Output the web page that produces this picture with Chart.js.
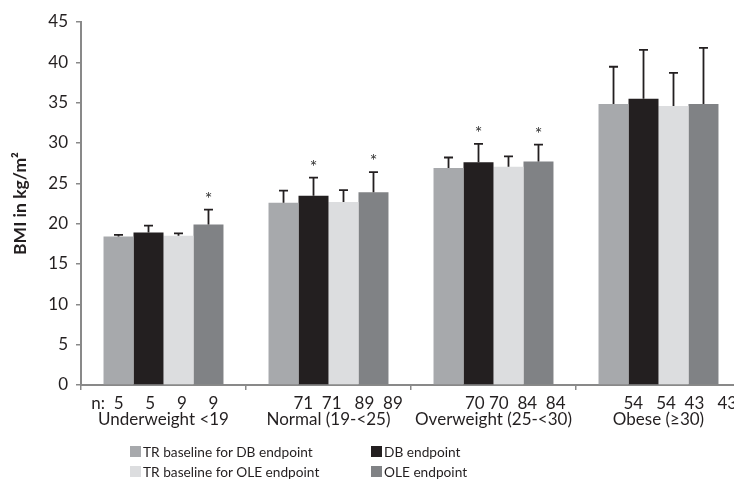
<!DOCTYPE html>
<html>
<head>
<meta charset="utf-8">
<script src="https://cdn.jsdelivr.net/npm/chart.js@4.4.0/dist/chart.umd.min.js"></script>
<style>
  html, body { margin: 0; padding: 0; background: #fff; overflow: hidden; }
  #wrap { position: relative; width: 746px; height: 490px; }
  #legend { position: absolute; left: 0; top: 0; font-family: Lato, sans-serif; font-size: 13.7px; color: #231f20; }
  .item { position: absolute; height: 20px; display: flex; align-items: center; white-space: nowrap; }
  .box { width: 11px; height: 11px; margin-right: 2px; }
</style>
</head>
<body>
<div id="wrap">
  <canvas id="chart" width="746" height="490"></canvas>
  <div id="legend"></div>
</div>
<script>
// ---- DATA ----
const categories = ['Underweight <19', 'Normal (19-<25)', 'Overweight (25-<30)', 'Obese (≥30)'];
// n per bar, typed as one row of text under each group (as in the source figure)
const nRows = [
  'n:  5     5     9     9    ',
  '         71  71   89  89',
  '          70 70  84  84',
  '          54   54  43   43'
];

const seriesNames = ['TR baseline for DB endpoint', 'DB endpoint', 'TR baseline for OLE endpoint', 'OLE endpoint'];
const seriesColors = ['#a7a9ac', '#231f20', '#dcdddf', '#808285'];

const trBaseDB  = [18.4, 22.6, 26.9, 34.85];
const dbEnd     = [18.9, 23.45, 27.6, 35.5];
const trBaseOLE = [18.5, 22.7, 27.05, 34.6];
const oleEnd    = [19.9, 23.9, 27.7, 34.85];

// upper SD
const sdTrBaseDB  = [0.2, 1.5, 1.3, 4.6];
const sdDbEnd     = [0.85, 2.25, 2.3, 6.05];
const sdTrBaseOLE = [0.3, 1.45, 1.3, 4.1];
const sdOleEnd    = [1.85, 2.5, 2.1, 6.95];

// significance markers (*)
const sigTrBaseDB  = [false, false, false, false];
const sigDbEnd     = [false, true, true, false];
const sigTrBaseOLE = [false, false, false, false];
const sigOleEnd    = [true, true, true, false];

const yTicksMax = 45;
const yStep = 5;

const FONT = 'Lato';
const INK = '#231f20';
const AXIS = '#898989';

// ---- PLUGIN: error bars + asterisks ----
const errorBars = {
  id: 'errorBars',
  afterDatasetsDraw(chart) {
    const ctx = chart.ctx;
    const y = chart.scales.y;
    ctx.save();
    chart.data.datasets.forEach((ds, i) => {
      const meta = chart.getDatasetMeta(i);
      meta.data.forEach((bar, j) => {
        const top = y.getPixelForValue(ds.data[j] + ds.sd[j]);
        ctx.strokeStyle = INK;
        ctx.lineWidth = 1.8;
        ctx.beginPath();
        ctx.moveTo(bar.x, bar.y);
        ctx.lineTo(bar.x, top);
        ctx.moveTo(bar.x - 4.5, top);
        ctx.lineTo(bar.x + 4.5, top);
        ctx.stroke();
        if (ds.sig[j]) {
          ctx.fillStyle = '#333';
          ctx.font = '18px ' + FONT;
          ctx.textAlign = 'center';
          ctx.textBaseline = 'alphabetic';
          ctx.fillText('*', bar.x, top - 5);
        }
      });
    });
    ctx.restore();
  }
};

const values = [trBaseDB, dbEnd, trBaseOLE, oleEnd];
const sds = [sdTrBaseDB, sdDbEnd, sdTrBaseOLE, sdOleEnd];
const sigs = [sigTrBaseDB, sigDbEnd, sigTrBaseOLE, sigOleEnd];

const chart = new Chart(document.getElementById('chart'), {
  type: 'bar',
  data: {
    labels: categories.map((c, i) => [nRows[i], c]),
    datasets: seriesNames.map((name, i) => ({
      label: name,
      data: values[i],
      sd: sds[i],
      sig: sigs[i],
      backgroundColor: seriesColors[i],
      borderWidth: 0,
      categoryPercentage: 0.727,
      barPercentage: 1.0
    }))
  },
  options: {
    responsive: false,
    animation: false,
    devicePixelRatio: 1,
    layout: { padding: { top: 22, right: 5, left: 0, bottom: 0 } },
    plugins: { legend: { display: false }, tooltip: { enabled: false } },
    scales: {
      x: {
        grid: { offset: true, drawOnChartArea: false, tickLength: 5, color: AXIS, lineWidth: 1.5 },
        border: { color: AXIS, width: 2 },
        ticks: { color: INK, font: { family: FONT, size: 17, lineHeight: 0.95 }, padding: 5, autoSkip: false, maxRotation: 0 },
        afterFit(scale) { scale.height = 105; }
      },
      y: {
        min: 0, max: yTicksMax,
        grid: { drawOnChartArea: false, tickLength: 5, color: AXIS, lineWidth: 1.5 },
        border: { color: AXIS, width: 2 },
        ticks: { stepSize: yStep, color: INK, font: { family: FONT, size: 17 }, padding: 8 },
        title: { display: true, text: 'BMI in kg/m²', color: INK, font: { family: FONT, size: 17.5, weight: 'bold' }, padding: { top: 10, bottom: 0 } },
        afterFit(scale) { scale.width = 81; }
      }
    }
  },
  plugins: [errorBars]
});

// ---- LEGEND (2 x 2) ----
const legendX = [130, 371];
const legendY = [451, 471];
const legend = document.getElementById('legend');
chart.data.datasets.forEach((ds, i) => {
  const el = document.createElement('div');
  el.className = 'item';
  el.style.left = legendX[i % 2] + 'px';
  el.style.top = (legendY[Math.floor(i / 2)] - 10) + 'px';
  el.innerHTML = '<span class="box" style="background:' + ds.backgroundColor + '"></span>' + ds.label;
  legend.appendChild(el);
});
</script>
</body>
</html>
